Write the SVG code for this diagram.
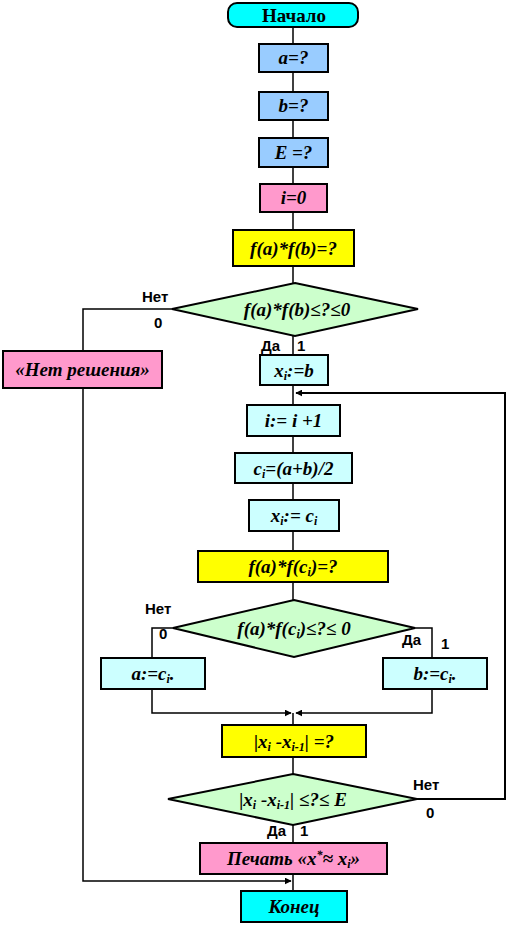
<svg xmlns="http://www.w3.org/2000/svg" width="508" height="927" viewBox="0 0 508 927">
<defs>
<marker id="ah" viewBox="0 0 10 10" refX="9" refY="5" markerWidth="7" markerHeight="7" orient="auto" markerUnits="userSpaceOnUse">
<path d="M0,0 L10,5 L0,10 z" fill="#000"/>
</marker>
<style>
.box{stroke:#000;stroke-width:2}
.t{font-family:"Liberation Serif","Times New Roman",serif;font-weight:bold;font-style:italic;font-size:19px;text-anchor:middle;fill:#000}
.tn{font-family:"Liberation Serif","Times New Roman",serif;font-weight:bold;font-size:19px;text-anchor:middle;fill:#000}
.lb{font-family:"Liberation Sans",Arial,sans-serif;font-weight:bold;font-size:15px;fill:#000}
.sub{font-size:12px}
.ln{fill:none;stroke:#000;stroke-width:1.5}
.lnt{fill:none;stroke:#000;stroke-width:2}
.cyan{fill:#00FFFF}
.blue{fill:#99CCFF}
.pink{fill:#FF99CC}
.yel{fill:#FFFF00}
.grn{fill:#CCFFCC}
.lc{fill:#CCFFFF}
</style>
</defs>

<g id="connectors">
<polyline class="ln" points="293,27 293,283"/>
<polyline class="ln" points="293,336 293,355"/>
<polyline class="ln" points="293,385 293,405"/>
<polyline class="ln" points="293,436 293,600"/>
<polyline class="ln" points="172,309 83,309 83,351"/>
<polyline class="ln" points="83,388 83,881 291,881" marker-end="url(#ah)"/>
<polyline class="lnt" points="417,799 505,799 505,393 296,393" marker-end="url(#ah)"/>
<polyline class="ln" points="173,628 152,628 152,658"/>
<polyline class="ln" points="415,628 432,628 432,658"/>
<polyline class="ln" points="152,689 152,713 291,713" marker-end="url(#ah)"/>
<polyline class="ln" points="432,689 432,713 296,713" marker-end="url(#ah)"/>
<polyline class="ln" points="293,713 293,725"/>
<polyline class="ln" points="293,757 293,774"/>
<polyline class="ln" points="293,825 293,843"/>
<polyline class="ln" points="293,874 293,891"/>
</g>

<g id="labels">
<text class="lb" x="142" y="302">Нет</text>
<text class="lb" x="154" y="328">0</text>
<text class="lb" x="261" y="351">Да</text>
<text class="lb" x="297" y="351">1</text>
<text class="lb" x="145" y="614">Нет</text>
<text class="lb" x="159" y="639">0</text>
<text class="lb" x="402" y="645">Да</text>
<text class="lb" x="441" y="649">1</text>
<text class="lb" x="413" y="790">Нет</text>
<text class="lb" x="426" y="818">0</text>
<text class="lb" x="267" y="836">Да</text>
<text class="lb" x="300" y="836">1</text>
</g>

<g id="start">
<rect class="box cyan" x="228" y="3" width="130" height="24" rx="9"/>
<text class="tn" x="294" y="22">Начало</text>
</g>
<g id="input-a">
<rect class="box blue" x="259" y="44" width="69" height="28"/>
<text class="t" x="293.5" y="64">a=?</text>
</g>
<g id="input-b">
<rect class="box blue" x="259" y="92" width="69" height="28"/>
<text class="t" x="293.5" y="112">b=?</text>
</g>
<g id="input-e">
<rect class="box blue" x="259" y="138" width="69" height="29"/>
<text class="t" x="293.5" y="159">E =?</text>
</g>
<g id="init-i">
<rect class="box pink" x="260" y="184" width="67" height="28"/>
<text class="t" x="293.5" y="204">i=0</text>
</g>
<g id="calc-fafb">
<rect class="box yel" x="233" y="230" width="121" height="36"/>
<text class="t" x="293.5" y="255">f(a)*f(b)=?</text>
</g>
<g id="check-root">
<polygon class="box grn" points="295,283 418,309 295,336 172,309"/>
<text class="t" x="297" y="316">f(a)*f(b)≤?≤0</text>
</g>
<g id="no-solution">
<rect class="box pink" x="3" y="351" width="159" height="37"/>
<text class="t" x="82.5" y="376">«Нет решения»</text>
</g>
<g id="xi-b">
<rect class="box lc" x="260" y="355" width="68" height="30"/>
<text class="t" x="294" y="377">x<tspan class="sub" dy="3">i</tspan><tspan dy="-3">:=b</tspan></text>
</g>
<g id="inc-i">
<rect class="box lc" x="247" y="405" width="93" height="31"/>
<text class="t" x="293.5" y="427">i:= i +1</text>
</g>
<g id="calc-ci">
<rect class="box lc" x="235" y="453" width="117" height="30"/>
<text class="t" x="293.5" y="475">c<tspan class="sub" dy="3">i</tspan><tspan dy="-3">=(a+b)/2</tspan></text>
</g>
<g id="xi-ci">
<rect class="box lc" x="249" y="500" width="90" height="31"/>
<text class="t" x="294" y="522">x<tspan class="sub" dy="3">i</tspan><tspan dy="-3">:= c</tspan><tspan class="sub" dy="3">i</tspan></text>
</g>
<g id="calc-faci">
<rect class="box yel" x="198" y="551" width="190" height="31"/>
<text class="t" x="293" y="573">f(a)*f(c<tspan class="sub" dy="3">i</tspan><tspan dy="-3">)=?</tspan></text>
</g>
<g id="check-sign">
<polygon class="box grn" points="294,600 415,628 294,657 173,628"/>
<text class="t" x="294" y="635">f(a)*f(c<tspan class="sub" dy="3">i</tspan><tspan dy="-3">)≤?≤ 0</tspan></text>
</g>
<g id="a-ci">
<rect class="box lc" x="101" y="658" width="104" height="31"/>
<text class="t" x="153" y="680">a:=c<tspan class="sub" dy="3">i</tspan><tspan dy="-3">.</tspan></text>
</g>
<g id="b-ci">
<rect class="box lc" x="383" y="658" width="104" height="31"/>
<text class="t" x="435" y="680">b:=c<tspan class="sub" dy="3">i</tspan><tspan dy="-3">.</tspan></text>
</g>
<g id="calc-diff">
<rect class="box yel" x="222" y="725" width="144" height="32"/>
<text class="t" x="294" y="748">|x<tspan class="sub" dy="3">i</tspan><tspan dy="-3"> -x</tspan><tspan class="sub" dy="3">i-1</tspan><tspan dy="-3">| =?</tspan></text>
</g>
<g id="check-eps">
<polygon class="box grn" points="293,774 417,799 293,825 168,799"/>
<text class="t" x="293" y="806">|x<tspan class="sub" dy="3">i</tspan><tspan dy="-3"> -x</tspan><tspan class="sub" dy="3">i-1</tspan><tspan dy="-3">| ≤?≤ E</tspan></text>
</g>
<g id="print">
<rect class="box pink" x="200" y="843" width="187" height="31"/>
<text class="t" x="293.5" y="865">Печать «x<tspan class="sub" dy="-6">*</tspan><tspan dy="6">≈ x</tspan><tspan class="sub" dy="3">i</tspan><tspan dy="-3">»</tspan></text>
</g>
<g id="end">
<rect class="box cyan" x="241" y="891" width="106" height="31"/>
<text class="t" x="294" y="913">Конец</text>
</g>
</svg>
